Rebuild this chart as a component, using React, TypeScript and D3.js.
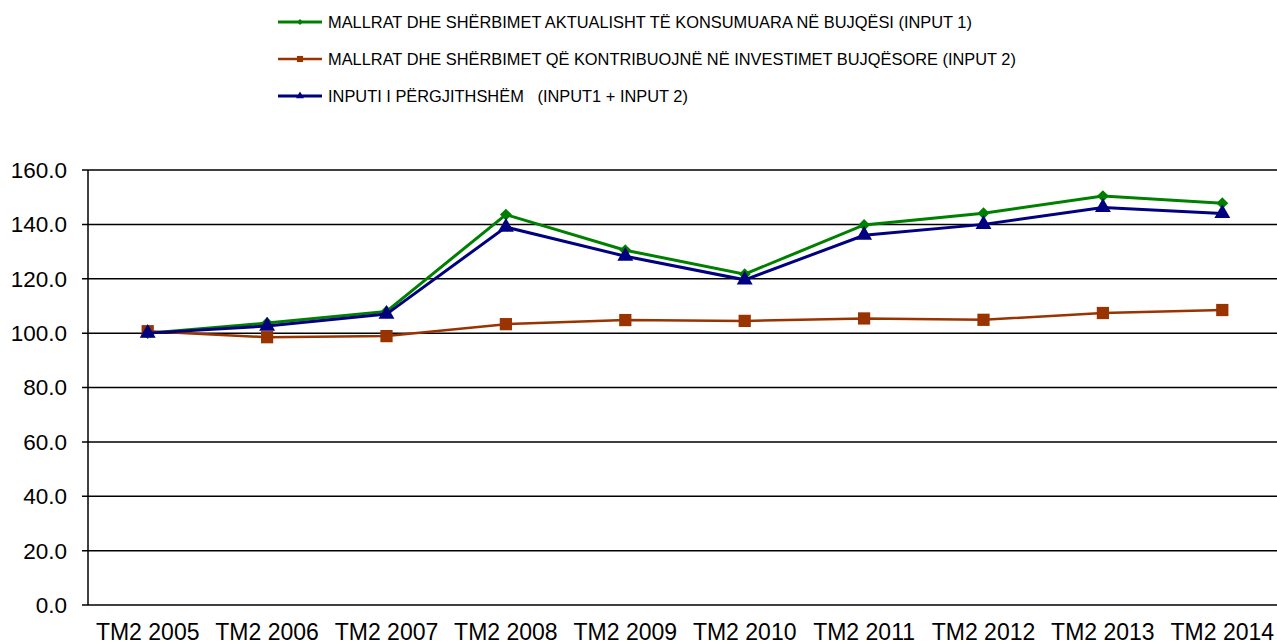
import * as d3 from "d3";
import { useEffect, useRef } from "react";

const categories = [
  "TM2 2005", "TM2 2006", "TM2 2007", "TM2 2008", "TM2 2009",
  "TM2 2010", "TM2 2011", "TM2 2012", "TM2 2013", "TM2 2014",
];
const input1 = [100.0, 103.7, 108.0, 143.6, 130.5, 121.7, 139.8, 144.1, 150.4, 147.8];
const input2 = [100.7, 98.5, 98.9, 103.3, 104.8, 104.5, 105.4, 104.9, 107.4, 108.5];
const total = [100.0, 102.6, 107.0, 139.0, 128.3, 119.6, 136.0, 140.0, 146.2, 144.0];
const yTicks = [0, 20, 40, 60, 80, 100, 120, 140, 160];

const seriesNames = [
  "MALLRAT DHE SHËRBIMET AKTUALISHT TË KONSUMUARA NË BUJQËSI (INPUT 1)",
  "MALLRAT DHE SHËRBIMET QË KONTRIBUOJNË NË INVESTIMET BUJQËSORE (INPUT 2)",
  "INPUTI I PËRGJITHSHËM   (INPUT1 + INPUT 2)",
];

const W = 1277;
const H = 642;
const margin = { left: 88, right: -5, top: 170, bottom: 37 };
const font = "Liberation Sans, Arial, sans-serif";

export default function App() {
  const svgRef = useRef<SVGSVGElement>(null);

  useEffect(() => {
    const svg = d3.select(svgRef.current);
    svg.selectAll("*").remove();

    const x = d3
      .scalePoint()
      .domain(categories)
      .range([margin.left, W - margin.right])
      .padding(0.5);
    const y = d3.scaleLinear().domain([0, 160]).range([H - margin.bottom, margin.top]);

    // gridlines
    svg
      .append("g")
      .selectAll("line")
      .data(yTicks)
      .join("line")
      .attr("x1", margin.left - 6)
      .attr("x2", W)
      .attr("y1", (d) => y(d))
      .attr("y2", (d) => y(d))
      .attr("stroke", "#000")
      .attr("stroke-width", 1.5);

    // y axis line
    svg
      .append("line")
      .attr("x1", margin.left)
      .attr("x2", margin.left)
      .attr("y1", y(160))
      .attr("y2", y(0))
      .attr("stroke", "#000")
      .attr("stroke-width", 1.5);

    svg
      .append("g")
      .selectAll("text")
      .data(yTicks)
      .join("text")
      .attr("x", 67)
      .attr("y", (d) => y(d))
      .attr("dy", "0.35em")
      .attr("text-anchor", "end")
      .attr("font-family", font)
      .attr("font-size", 22.5)
      .text((d) => d.toFixed(1));

    svg
      .append("g")
      .selectAll("text")
      .data(categories)
      .join("text")
      .attr("x", (d) => x(d)!)
      .attr("y", 640)
      .attr("text-anchor", "middle")
      .attr("font-family", font)
      .attr("font-size", 23)
      .text((d) => d);

    const series = [
      { name: seriesNames[0], values: input1, color: "#008000", width: 3, marker: d3.symbolDiamond2, size: 90 },
      { name: seriesNames[1], values: input2, color: "#993300", width: 2.5, marker: d3.symbolSquare, size: 150 },
      { name: seriesNames[2], values: total, color: "#000080", width: 3, marker: d3.symbolTriangle, size: 110 },
    ];

    const lineGen = d3
      .line<number>()
      .x((_, i) => x(categories[i])!)
      .y((d) => y(d));

    series.forEach((s) => {
      svg
        .append("path")
        .datum(s.values)
        .attr("d", lineGen)
        .attr("fill", "none")
        .attr("stroke", s.color)
        .attr("stroke-width", s.width);
      svg
        .append("g")
        .selectAll("path")
        .data(s.values)
        .join("path")
        .attr("transform", (d, i) => `translate(${x(categories[i])},${y(d)})`)
        .attr("d", d3.symbol(s.marker, s.size)())
        .attr("fill", s.color);
    });

    // legend
    const legend = svg.append("g");
    series.forEach((s, i) => {
      const ly = 22 + i * 37;
      legend
        .append("line")
        .attr("x1", 278)
        .attr("x2", 322)
        .attr("y1", ly)
        .attr("y2", ly)
        .attr("stroke", s.color)
        .attr("stroke-width", s.width);
      legend
        .append("path")
        .attr("transform", `translate(300,${ly})`)
        .attr("d", d3.symbol(s.marker, s.size / 4)())
        .attr("fill", s.color);
      legend
        .append("text")
        .attr("x", 328)
        .attr("y", ly)
        .attr("dy", "0.35em")
        .attr("font-family", font)
        .attr("font-size", 16.4)
        .style("white-space", "pre")
        .text(s.name);
    });
  }, []);

  return (
    <svg
      ref={svgRef}
      width={W}
      height={H}
      style={{ position: "absolute", left: 0, top: 0, background: "#fff" }}
    />
  );
}
